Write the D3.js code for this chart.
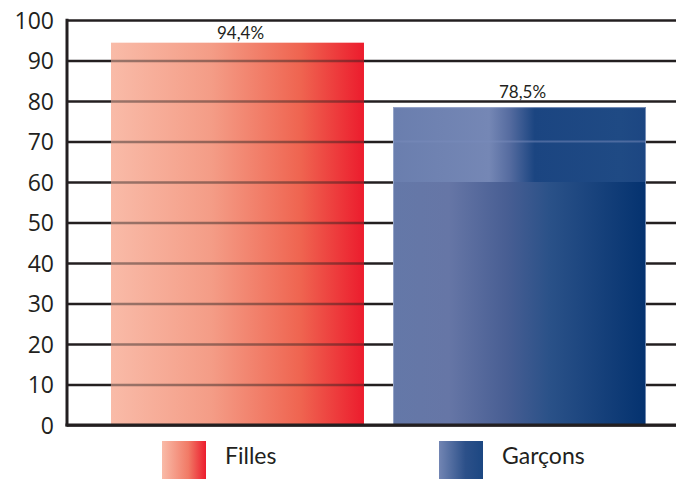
<!DOCTYPE html>
<html>
<head>
<meta charset="utf-8">
<script src="https://cdn.jsdelivr.net/npm/d3@7"></script>
<style>
  body { margin: 0; background: #fff; }
  svg { display: block; }
</style>
</head>
<body>
<div id="chart"></div>
<script>
// Data
const categories = ["Filles", "Garçons"];
const values = [94.4, 78.5];
const valueLabels = ["94,4%", "78,5%"];
const yTicks = [0, 10, 20, 30, 40, 50, 60, 70, 80, 90, 100];

const W = 678, H = 480;

const svg = d3.select("#chart")
  .append("svg")
  .attr("width", W)
  .attr("height", H);

// Gradients
const defs = svg.append("defs");

function addGradient(id, stops) {
  const g = defs.append("linearGradient")
    .attr("id", id)
    .attr("x1", "0%").attr("x2", "100%")
    .attr("y1", "0%").attr("y2", "0%");
  stops.forEach(s => g.append("stop").attr("offset", s[0]).attr("stop-color", s[1]));
}

addGradient("gradRed", [["0%", "#f9bba8"], ["40%", "#f49c86"], ["75%", "#ef6450"], ["100%", "#ec1c2d"]]);
addGradient("gradBlue", [["0%", "#6478a8"], ["22%", "#6676a6"], ["45%", "#485e93"], ["62%", "#2a5188"], ["100%", "#04326f"]]);
addGradient("gradBlueTop", [["0%", "#6a7eae"], ["38%", "#7587b5"], ["46%", "#566ca0"], ["56%", "#1b4581"], ["90%", "#1f4a84"], ["100%", "#1c4682"]]);
addGradient("legRed", [["0%", "#f9bba8"], ["60%", "#f17a66"], ["100%", "#ec1c2d"]]);
addGradient("legBlue", [["0%", "#7285b3"], ["60%", "#2c5089"], ["100%", "#1c4782"]]);

const fills = ["url(#gradRed)", "url(#gradBlue)"];
const legendFills = ["url(#legRed)", "url(#legBlue)"];

// Scales
const x = d3.scaleBand()
  .domain(categories)
  .range([67, 690])
  .paddingInner(0.103)
  .paddingOuter(0.156);

const y = d3.scaleLinear()
  .domain([0, 100])
  .range([425, 20]);

const axisX = 67, gridEnd = 676;

// Grid lines (under bars)
const grid = svg.append("g")
  .attr("transform", `translate(${axisX},0)`)
  .call(d3.axisLeft(y).tickValues(yTicks).tickSize(-(gridEnd - axisX)).tickFormat(""));
grid.select(".domain").remove();
grid.selectAll("line").attr("stroke", "#231f20").attr("stroke-width", 2.6);

// Bars
svg.selectAll(".bar")
  .data(values)
  .enter()
  .append("rect")
  .attr("class", "bar")
  .attr("x", (d, i) => x(categories[i]))
  .attr("width", x.bandwidth())
  .attr("y", d => y(d))
  .attr("height", d => y(0) - y(d))
  .attr("fill", (d, i) => fills[i]);

// Upper band of the blue bar has a different shading
svg.append("rect")
  .attr("x", x(categories[1]))
  .attr("width", x.bandwidth())
  .attr("y", y(values[1]))
  .attr("height", y(60) - y(values[1]))
  .attr("fill", "url(#gradBlueTop)");

// faint light edge on the blue bar
svg.append("rect")
  .attr("x", x(categories[1]) + 0.5)
  .attr("width", x.bandwidth() - 1)
  .attr("y", y(values[1]) + 0.5)
  .attr("height", y(0) - y(values[1]) - 1)
  .attr("fill", "none")
  .attr("stroke", "#b4bfdb")
  .attr("stroke-opacity", 0.6);

// Grid lines showing through the red bar
defs.append("clipPath").attr("id", "clipRed")
  .append("rect")
  .attr("x", x(categories[0]))
  .attr("width", x.bandwidth())
  .attr("y", y(values[0]))
  .attr("height", y(0) - y(values[0]));

const gridOver = svg.append("g")
  .attr("clip-path", "url(#clipRed)")
  .append("g")
  .attr("transform", `translate(${axisX},0)`)
  .call(d3.axisLeft(y).tickValues(yTicks.filter(t => t > 0)).tickSize(-(gridEnd - axisX)).tickFormat(""));
gridOver.select(".domain").remove();
gridOver.selectAll("line").attr("stroke", "#231f20").attr("stroke-width", 2.6).attr("stroke-opacity", 0.45);

// Light line across the blue bar at 70
svg.append("line")
  .attr("x1", x(categories[1])).attr("x2", x(categories[1]) + x.bandwidth())
  .attr("y1", y(70)).attr("y2", y(70))
  .attr("stroke", "#7a8cbb").attr("stroke-width", 2).attr("stroke-opacity", 0.5);

// Axis lines
svg.append("line")
  .attr("x1", axisX).attr("x2", axisX)
  .attr("y1", y(100) - 1.3).attr("y2", y(0) + 1.5)
  .attr("stroke", "#231f20").attr("stroke-width", 3);
svg.append("line")
  .attr("x1", axisX - 1.5).attr("x2", gridEnd)
  .attr("y1", y(0)).attr("y2", y(0))
  .attr("stroke", "#231f20").attr("stroke-width", 3);

// Y tick labels
svg.selectAll(".ytick")
  .data(yTicks)
  .enter()
  .append("text")
  .attr("class", "ytick")
  .attr("x", 54)
  .attr("y", d => y(d) + 8.5)
  .attr("text-anchor", "end")
  .style("font-family", "'Open Sans', sans-serif")
  .style("font-size", "23px")
  .attr("fill", "#231f20")
  .text(d => d);

// Value labels: sit above the bar, or above the gridline if it is too close
function labelY(d) {
  const top = y(d);
  const above = y(Math.ceil(d / 10) * 10);
  return (top - above) < 10 ? above - 3 : top - 4;
}

svg.selectAll(".vlabel")
  .data(values)
  .enter()
  .append("text")
  .attr("class", "vlabel")
  .attr("x", (d, i) => x(categories[i]) + x.bandwidth() / 2 + 3)
  .attr("y", d => labelY(d))
  .attr("text-anchor", "middle")
  .style("font-family", "'Lato', sans-serif")
  .style("font-size", "17px")
  .attr("fill", "#231f20")
  .text((d, i) => valueLabels[i]);

// Legend
const legendX = [162, 439];
const leg = svg.selectAll(".leg")
  .data(categories)
  .enter()
  .append("g")
  .attr("class", "leg")
  .attr("transform", (d, i) => `translate(${legendX[i]},441)`);

leg.append("rect")
  .attr("width", 44)
  .attr("height", 38)
  .attr("fill", (d, i) => legendFills[i]);

leg.append("text")
  .attr("x", 63)
  .attr("y", 23)
  .style("font-family", "'Lato', sans-serif")
  .style("font-size", "23px")
  .attr("fill", "#231f20")
  .text(d => d);
</script>
</body>
</html>
